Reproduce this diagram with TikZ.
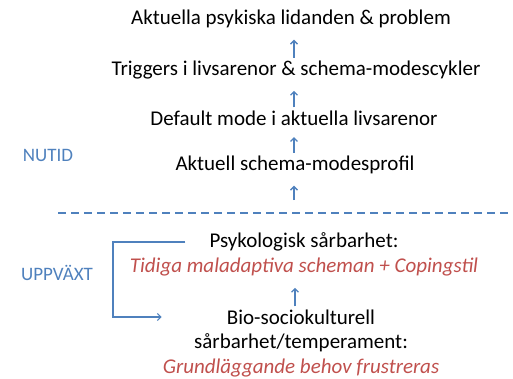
\documentclass[tikz,border=0pt]{standalone}
\usepackage{fontspec}
\setmainfont{Carlito}
\usetikzlibrary{arrows.meta,calc}
\definecolor{nublue}{RGB}{79,129,189}
\definecolor{nured}{RGB}{192,80,77}

\begin{document}
\begin{tikzpicture}[x=1pt,y=-1pt,
  every node/.style={inner sep=0pt,font=\fontsize{21}{24}\selectfont},
  upp/.style={nublue,line width=1.3pt,-{Straight Barb[length=3.5pt,width=7pt]},shorten >=11.5pt,shorten <=3pt},
  sidtext/.style={text=nublue,font=\fontsize{19}{22}\selectfont},
  rodtext/.style={text=nured,font=\fontsize{21}{24}\selectfont\itshape}]
\useasboundingbox (0,0) rectangle (513,378);
\coordinate (axel) at (294,0);
\node (aktuella) at (291,19) {Aktuella psykiska lidanden \& problem};
\node (triggers) at (296,70) {Triggers i livsarenor \& schema-modescykler};
\node (default) at (294,118) {Default mode i aktuella livsarenor};
\node (profil) at (295,165) {Aktuell schema-modesprofil};
\node[sidtext] (nutid) at (48,155) {NUTID};
\draw[upp] (triggers.north -| axel) -- (aktuella.south -| axel);
\draw[upp] (default.north -| axel) -- (triggers.south -| axel);
\draw[upp] (profil.north -| axel) -- (default.south -| axel);
\coordinate (grans) at (294,200);\draw[upp,shorten <=0pt] (grans) -- (profil.south -| grans);
\draw[nublue,line width=1.3pt,dash pattern=on 8pt off 5pt] (58,213) coordinate (streckv) -- (513,213) coordinate (streckh);
\node (psyk) at (304,242) {Psykologisk sårbarhet:};
\node[rodtext] (tidiga) at (304,267) {Tidiga maladaptiva scheman + Copingstil};
\node (bio) at (301,317) {Bio-sociokulturell};
\node (temp) at (301,343) {sårbarhet/temperament:};
\node[rodtext] (grund) at (301,368) {Grundläggande behov frustreras};
\node[sidtext] (uppvaxt) at (57,273) {UPPVÄXT};
\draw[upp] (bio.north -| 295,0) -- (tidiga.south -| 295,0);
\draw[nublue,line width=1.2pt,-{Straight Barb[length=3.5pt,width=7pt]}] ([xshift=-24pt]psyk.west) -- (113,242) |- ([xshift=-65pt]bio.west);
\end{tikzpicture}
\end{document}
